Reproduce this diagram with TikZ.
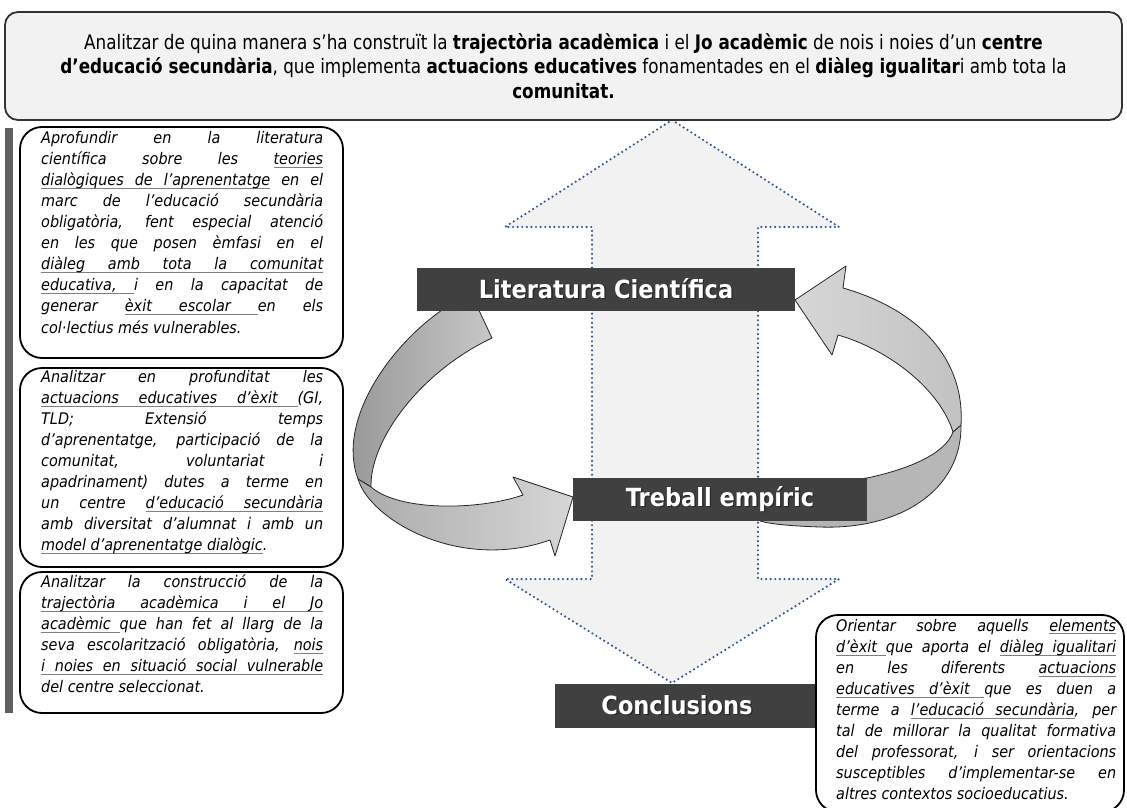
\documentclass[tikz,border=0pt]{standalone}
\usepackage{fontspec}
\setmainfont{DejaVu Sans}
\newfontfamily\tah{DejaVu Sans}[FakeStretch=0.9]
\newfontfamily\tahc{DejaVu Sans}[FakeStretch=0.84]
\setlength\parindent{0pt}
\definecolor{boxfill}{HTML}{F2F2F2}
\definecolor{dotblue}{HTML}{2F5597}
\definecolor{labelfill}{HTML}{404040}
\definecolor{barfill}{HTML}{606060}
\definecolor{ulc}{HTML}{7F7F7F}
% underline helpers
\newcommand\gu[1]{\setbox0=\hbox{#1}\rlap{\textcolor{ulc}{\rule[-3.3pt]{\wd0}{1pt}}}\box0\relax}
\newcommand\gs{{\color{ulc}\leaders\hrule height -2.3pt depth 3.3pt\hskip .29em plus 1fil}}
\def\gulA#1 #2\gulend{\gu{#1}\ifx\relax#2\relax\else\gs\gulA#2\gulend\fi}
\newcommand\gul[1]{\gulA#1 \gulend}
% justified line / last line
\newcommand\jl[1]{\hbox to\hsize{\strut\spaceskip=.29em plus 1fil\xspaceskip=.29em plus 1fil\relax #1}}
\newcommand\lastl[1]{\hbox{\strut #1}}
\newcommand\shtext[1]{\makebox[0pt][l]{\hspace{1.3pt}\raisebox{-1.3pt}{\textcolor{black!85}{#1}}}#1}
\tikzset{
  bigarrow/.style={fill=boxfill, draw=dotblue, line width=2.4pt, line cap=round, dash pattern=on 0pt off 4.6pt},
  lab/.style={fill=labelfill, inner sep=0pt, text=white, font=\tah\bfseries\fontsize{25}{30}\selectfont},
  curv/.style={draw=black!85, line width=0.8pt, line join=round},
  tbox/.style={draw=black, line width=1.8pt, rounded corners=22pt, fill=white, inner sep=0pt},
  ttext/.style={anchor=north west, inner sep=0pt, font=\tah\itshape\fontsize{16}{21.1}\selectfont},
  topbox/.style={draw=black!80, line width=1.8pt, rounded corners=13pt, fill=boxfill, inner sep=0pt, align=center, font=\tahc\fontsize{20}{24.2}\selectfont}
}
\begin{document}
\begin{tikzpicture}[x=1pt,y=-1pt]
\useasboundingbox (0,0) rectangle (1127,808);
% big double arrow
\draw[bigarrow] (672,120) -- (839,227) -- (758,227) -- (758,579) -- (839,579) -- (672,683) -- (505,579) -- (592,579) -- (592,227) -- (505,227) -- cycle;
% left curved arrow: upper band
\path[curv, left color=black!42, right color=black!22]
  (448,306) .. controls (392,342) and (336,420) .. (358,479) -- (371,487)
  .. controls (370,440) and (420,372) .. (492,338) -- (476,304) -- cycle;
% left curved arrow: lower band and head
\path[curv, left color=black!33, right color=black!16]
  (358,479) .. controls (370,520) and (460,572) .. (550,540) -- (555,556) -- (573,497) -- (513,477) -- (523,495)
  .. controls (480,510) and (400,512) .. (371,487) -- cycle;
% right curved arrow: lower band
\path[curv, left color=black!30, right color=black!28]
  (961,425) .. controls (962,490) and (900,530) .. (820,527) .. controls (790,526) and (770,524) .. (760,521)
  -- (760,490) -- (867,478) .. controls (905,470) and (945,455) .. (953,432) -- cycle;
% right curved arrow: upper band and head
\path[curv, left color=black!16, right color=black!24]
  (843,288) .. controls (920,310) and (965,360) .. (961,425) -- (953,432)
  .. controls (940,390) and (890,350) .. (838,335) -- (832,355) -- (795,300) -- (846,266) -- cycle;
% labels
\node[lab, minimum width=378pt, minimum height=43pt] (lit) at (606,289.5) {\shtext{Literatura Científica}};
\node[lab, minimum width=294pt, minimum height=43pt] (tre) at (720,499.5) {\shtext{Treball empíric}};
\node[lab, minimum width=275pt, minimum height=44pt] (con) at (692.5,706) {\hspace*{-31pt}\shtext{Conclusions}};
% top box
\node[topbox, minimum width=1117pt, minimum height=108pt] (top) at (563.5,66)
 {Analitzar de quina manera s’ha construït la \textbf{trajectòria acadèmica} i el \textbf{Jo acadèmic} de nois i noies d’un \textbf{centre}\\
  \textbf{d’educació secundària}, que implementa \textbf{actuacions educatives} fonamentades en el \textbf{diàleg igualitar}i amb tota la\\
  \textbf{comunitat.}};
% left bar
\fill[barfill] (5,128) rectangle (13,713);
% left boxes
\node[tbox, minimum width=323pt, minimum height=231pt] (b1) at (181.5,242.5) {};
\node[tbox, minimum width=323pt, minimum height=199pt] (b2) at (181.5,467.5) {};
\node[tbox, minimum width=323pt, minimum height=141pt] (b3) at (181.5,642.5) {};
\node[ttext] (t1) at (41,128.2) {\vbox{\hsize=282pt
\jl{Aprofundir en la literatura}
\jl{científica sobre les \gul{teories}}
\jl{\gul{dialògiques de l’aprenentatge} en el}
\jl{marc de l’educació secundària}
\jl{obligatòria, fent especial atenció}
\jl{en les que posen èmfasi en el}
\jl{\gul{diàleg amb tota la comunitat}}
\jl{\gul{educativa,}\gs i en la capacitat de}
\jl{generar \gul{èxit escolar}\gs en els}
\lastl{col·lectius més vulnerables.}}};
\node[ttext] (t2) at (41,367.2) {\vbox{\hsize=282pt
\jl{Analitzar en profunditat les}
\jl{\gul{actuacions educatives d’èxit}\gs(GI,}
\jl{TLD; Extensió temps}
\jl{d’aprenentatge, participació de la}
\jl{comunitat, voluntariat i}
\jl{apadrinament) dutes a terme en}
\jl{un centre \gul{d’educació secundària}}
\jl{amb diversitat d’alumnat i amb un}
\lastl{\gul{model d’aprenentatge dialògic}.}}};
\node[ttext] (t3) at (41,572.2) {\vbox{\hsize=282pt
\jl{Analitzar la construcció de la}
\jl{\gul{trajectòria acadèmica i el Jo}}
\jl{\gul{acadèmic}\gs que han fet al llarg de la}
\jl{seva escolarització obligatòria, \gul{nois}}
\jl{\gul{i noies en situació social vulnerable}}
\lastl{del centre seleccionat.}}};
% right box
\node[tbox, minimum width=308pt, minimum height=197pt] (rb) at (970,713.5) {};
\node[ttext] (t4) at (836,616.2) {\vbox{\hsize=280pt
\jl{Orientar sobre aquells \gul{elements}}
\jl{\gul{d’èxit}\gs que aporta el \gul{diàleg igualitari}}
\jl{en les diferents \gul{actuacions}}
\jl{\gul{educatives d’èxit}\gs que es duen a}
\jl{terme a \gul{l’educació secundària}, per}
\jl{tal de millorar la qualitat formativa}
\jl{del professorat, i ser orientacions}
\jl{susceptibles d’implementar-se en}
\lastl{altres contextos socioeducatius.}}};
\end{tikzpicture}
\end{document}
